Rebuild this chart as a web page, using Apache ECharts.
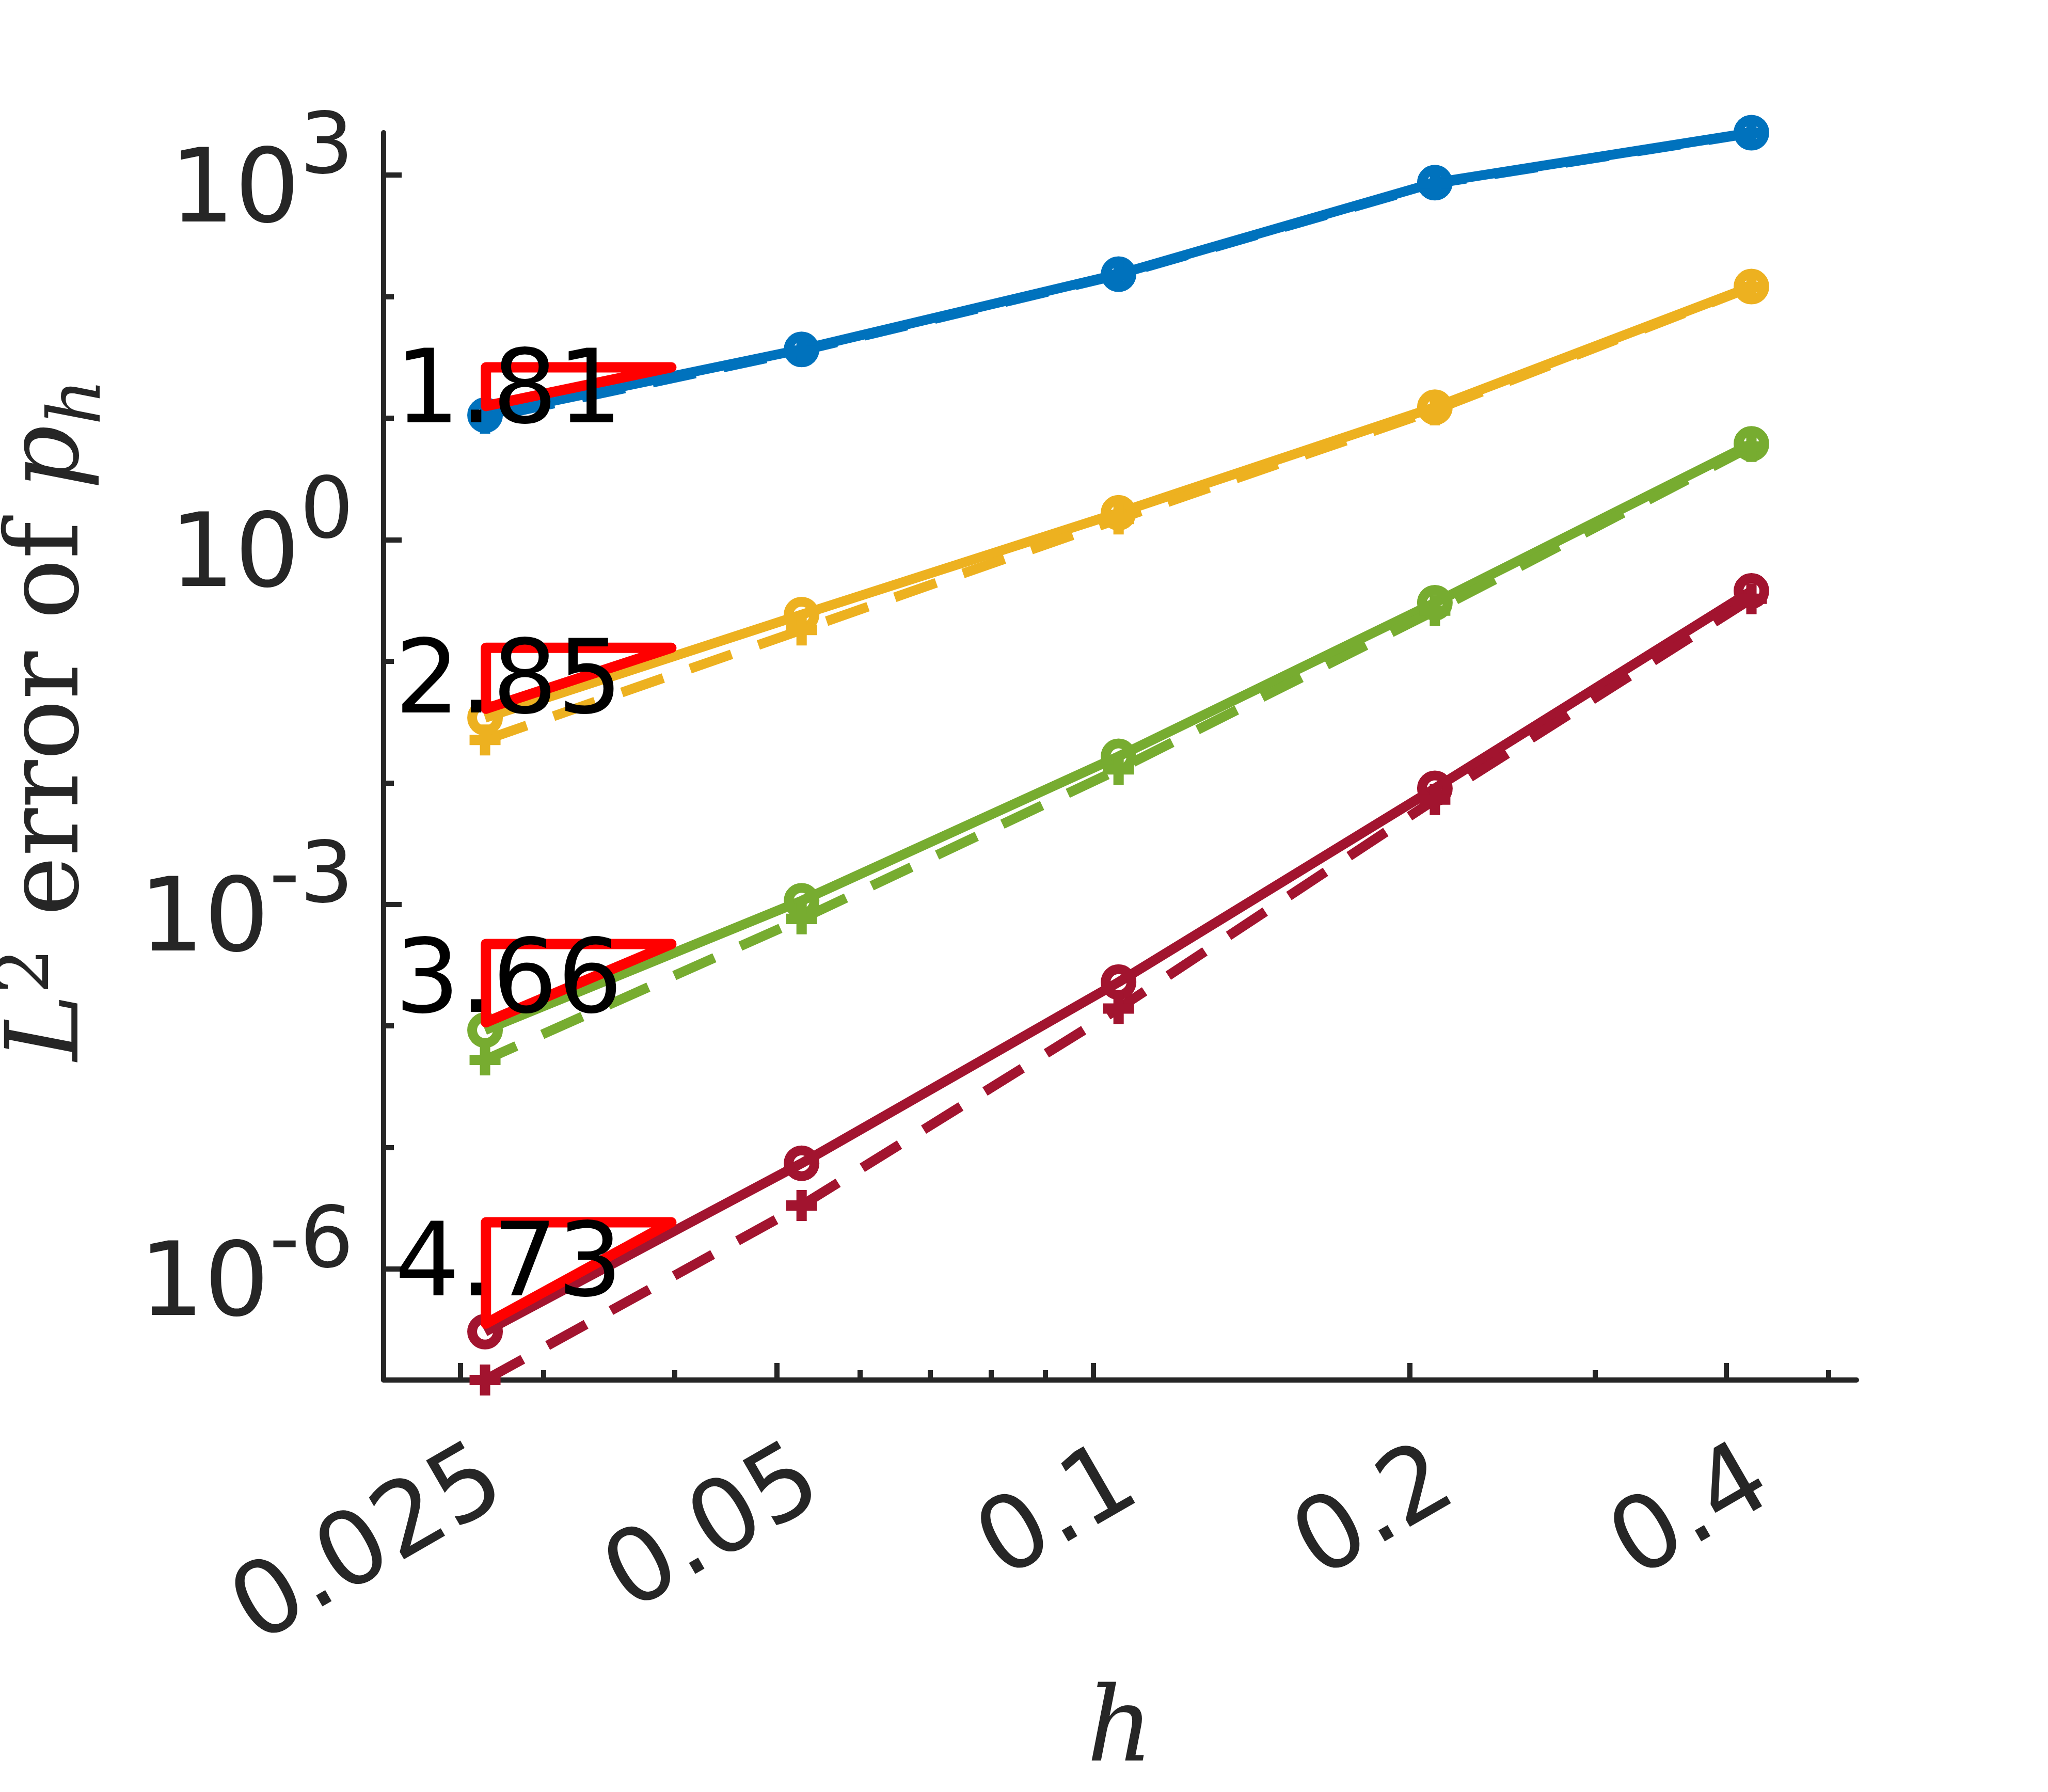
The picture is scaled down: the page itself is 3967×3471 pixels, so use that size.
<!DOCTYPE html>
<html><head><meta charset="utf-8">
<script src="https://cdn.jsdelivr.net/npm/echarts@6/dist/echarts.min.js"></script>
<style>html,body{margin:0;padding:0;background:#fff}#c{width:3967px;height:3471px}</style>
</head><body><div id="c"></div>
<script>
// ---- data ----
const h = [0.4226, 0.2113, 0.1057, 0.0528, 0.0264];
const blueSolid    = [2234, 867, 153, 36.8, 10.6];
const blueDashed   = [2213, 851, 151, 35.9, 10.0];
const yellowSolid  = [121, 12.3, 1.667, 0.242, 0.0343];
const yellowDashed = [120, 11.7, 1.48, 0.181, 0.0225];
const greenSolid   = [6.15, 0.303, 0.0165, 1.07e-3, 9.23e-5];
const greenDashed  = [5.86, 0.261, 0.0129, 7.59e-4, 5.25e-5];
const redSolid     = [0.379, 9.0e-3, 2.29e-4, 7.41e-6, 3.05e-7];
const redDashed    = [0.327, 7.28e-3, 1.39e-4, 3.33e-6, 1.22e-7];

const rateLabels = ['1.81', '2.85', '3.66', '4.73'];
const triX = [0.02645, 0.0397];
const triBottom = [12.6, 0.0407, 1.07e-4, 3.55e-7];
const triTop    = [26.2, 0.129, 4.72e-4, 2.42e-6];
const rateLabelX = 0.0278;
const rateLabelY = [15.3, 0.0624, 2.16e-4, 1.0e-6];

const xMajorTicks = [0.025, 0.05, 0.1, 0.2, 0.4];
const xTickLabels = ['0.025', '0.05', '0.1', '0.2', '0.4'];
const xMinorTicks = [0.03, 0.04, 0.06, 0.07, 0.08, 0.09, 0.3, 0.5];
const yMajorTicks = [1e-6, 1e-3, 1, 1e3];
const yTickExp    = ['-6', '-3', '0', '3'];
const yMinorTicks = [1e-6, 1e-5, 1e-4, 1e-3, 1e-2, 1e-1, 1, 10, 100, 1000];
const xRange = [0.02114, 0.5319];
const yRange = [1.22e-7, 2234];

const colors = ['#0072BD', '#EDB120', '#77AC30', '#A2142F'];
const solids = [blueSolid, yellowSolid, greenSolid, redSolid];
const dashes = [blueDashed, yellowDashed, greenDashed, redDashed];

// ---- build options ----
const AX = '#262626';
const plusPath = 'path://M33.3,0H66.7V33.3H100V66.7H66.7V100H33.3V66.7H0V33.3H33.3Z';
const pairs = (xs, ys) => xs.map((x, i) => [x, ys[i]]);
const series = [];
colors.forEach((c, k) => {
  series.push({
    type: 'line', data: pairs(h, solids[k]), clip: false, z: 2,
    symbol: 'circle', symbolSize: 50,
    itemStyle: { color: 'rgba(0,0,0,0)', borderColor: c, borderWidth: 19 },
    lineStyle: { color: c, width: 19 },
    emphasis: { disabled: true }, silent: true
  });
  series.push({
    type: 'line', data: pairs(h, dashes[k]), clip: false, z: 2,
    symbol: plusPath, symbolSize: 60,
    itemStyle: { color: c, borderWidth: 0 },
    lineStyle: { color: c, width: 19, type: [85, 55] },
    emphasis: { disabled: true }, silent: true
  });
});
rateLabels.forEach((t, k) => {
  series.push({
    type: 'line', z: 3, clip: false, symbol: 'none', silent: true,
    data: [[triX[0], triBottom[k]], [triX[0], triTop[k]], [triX[1], triTop[k]], [triX[0], triBottom[k]]],
    lineStyle: { color: '#FF0000', width: 20, cap: 'round', join: 'round' },
    emphasis: { disabled: true }
  });
  series.push({
    type: 'scatter', z: 4, clip: false, silent: true,
    data: [[rateLabelX, rateLabelY[k]]], symbolSize: 1,
    itemStyle: { color: 'rgba(0,0,0,0)' },
    label: { show: true, position: 'inside', formatter: t, color: '#000000', textBorderWidth: 0, opacity: 1,
             fontSize: 198, fontFamily: 'DejaVu Sans', align: 'center', verticalAlign: 'middle' },
    emphasis: { disabled: true }
  });
});

const matchIdx = (v, arr) => arr.findIndex(a => Math.abs(v - a) / a < 1e-6);

const option = {
  animation: false,
  backgroundColor: '#fff',
  grid: { left: 743, right: 371, top: 257, bottom: 798, containLabel: false, outerBoundsMode: 'none' },
  xAxis: [{
    type: 'log', min: xRange[0], max: xRange[1], position: 'bottom',
    axisLine: { show: true, onZero: false, lineStyle: { color: AX, width: 10 } },
    axisTick: { show: true, inside: true, length: 33, customValues: xMajorTicks, lineStyle: { color: AX, width: 10 } },
    axisLabel: {
      show: true, customValues: xMajorTicks, rotate: 30, margin: 225,
      formatter: v => { const i = matchIdx(v, xMajorTicks); return i >= 0 ? '{t|' + xTickLabels[i] + '}' : ''; },
      rich: { t: { fontSize: 198, lineHeight: 198, fontFamily: 'DejaVu Sans', color: AX, padding: [0, -82, 0, 0] } }
    },
    splitLine: { show: false }, minorTick: { show: false },
    name: 'h', nameLocation: 'middle', nameGap: 585,
    nameTextStyle: { fontFamily: 'DejaVu Serif', fontStyle: 'italic', fontSize: 200, color: AX }
  }, {
    type: 'log', min: xRange[0], max: xRange[1], position: 'bottom',
    axisLine: { show: false },
    axisTick: { show: true, inside: true, length: 19, customValues: xMinorTicks, lineStyle: { color: AX, width: 10 } },
    axisLabel: { show: false }, splitLine: { show: false }
  }],
  yAxis: [{
    type: 'log', min: yRange[0], max: yRange[1], position: 'left',
    axisLine: { show: true, onZero: false, lineStyle: { color: AX, width: 10 } },
    axisTick: { show: true, inside: true, length: 35, customValues: yMajorTicks, lineStyle: { color: AX, width: 10 } },
    axisLabel: {
      show: true, customValues: yMajorTicks, margin: 58,
      formatter: v => { const i = matchIdx(v, yMajorTicks); return i >= 0 ? '{b|10}{s|' + yTickExp[i] + '}' : ''; },
      rich: {
        b: { fontSize: 198, lineHeight: 198, fontFamily: 'DejaVu Sans', color: AX, verticalAlign: 'bottom' },
        s: { fontSize: 164, lineHeight: 274, fontFamily: 'DejaVu Sans', color: AX, verticalAlign: 'bottom', padding: [0, 0, 102, 0] }
      }
    },
    splitLine: { show: false }, minorTick: { show: false },
    name: '{i|L}{sup|2}{n| error of }{i|p}{sub|h}', nameLocation: 'middle', nameGap: 496, nameRotate: 90,
    nameTextStyle: {
      padding: [0, 0, 0, 142],
      rich: {
        i: { fontFamily: 'DejaVu Serif', fontStyle: 'italic', fontSize: 195, lineHeight: 195, color: AX, verticalAlign: 'bottom', padding: [0, 0, 50, 0] },
        n: { fontFamily: 'DejaVu Serif', fontSize: 195, lineHeight: 195, color: AX, verticalAlign: 'bottom', padding: [0, 0, 50, 0] },
        sup: { fontFamily: 'DejaVu Serif', fontSize: 140, lineHeight: 140, color: AX, verticalAlign: 'bottom', padding: [0, 0, 120, 0] },
        sub: { fontFamily: 'DejaVu Serif', fontStyle: 'italic', fontSize: 140, lineHeight: 140, color: AX, verticalAlign: 'bottom', padding: [0, 0, 20, 0] }
      }
    }
  }, {
    type: 'log', min: yRange[0], max: yRange[1], position: 'left',
    axisLine: { show: false },
    axisTick: { show: true, inside: true, length: 20, customValues: yMinorTicks, lineStyle: { color: AX, width: 10 } },
    axisLabel: { show: false }, splitLine: { show: false }
  }],
  series: series.map(s => Object.assign({ xAxisIndex: 0, yAxisIndex: 0 }, s))
};

const chart = echarts.init(document.getElementById('c'), null, { renderer: 'canvas' });
chart.setOption(option);
</script>
</body></html>
